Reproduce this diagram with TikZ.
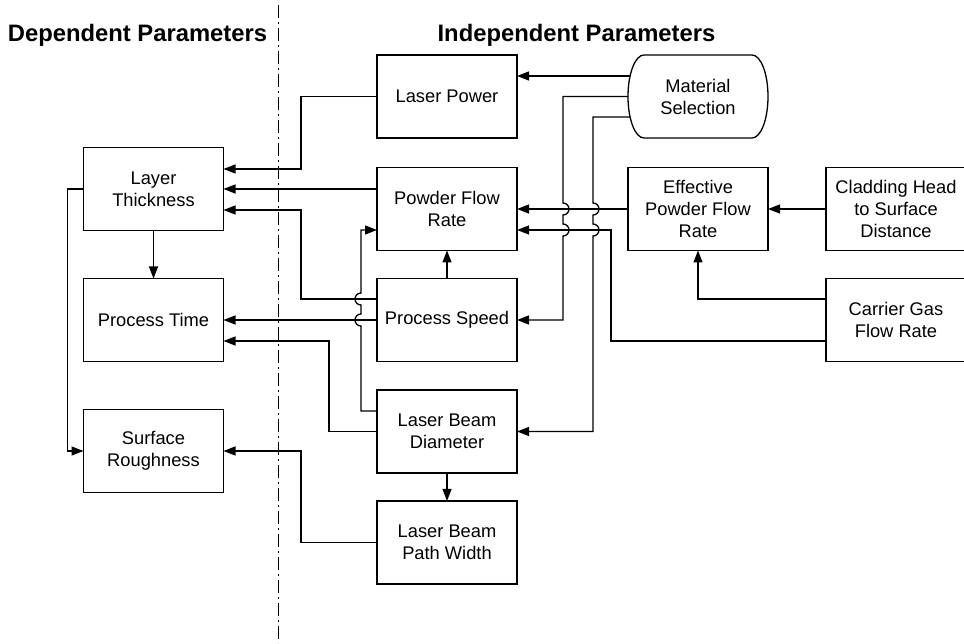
\documentclass[tikz,border=0pt]{standalone}
\usepackage{fontspec}
\setmainfont{Liberation Sans}
\usetikzlibrary{arrows.meta}
\tikzset{%
	param box/.style={
		draw,
		minimum width=140pt,
		minimum height=83pt,
		inner sep=0pt,
		outer sep=0pt,
		align=center,
		font=\fontsize{18.3}{22}\selectfont
	},
	param head/.style={
		anchor=base,
		font=\fontsize{23.8}{28}\selectfont\bfseries
	},
	split line/.style={
		line width=0.9pt,
		dash pattern=on 13pt off 4pt on 2pt off 4pt
	},
}

\begin{document}
\begin{tikzpicture}[x=1pt, y=1pt, line width=1.3pt, >={Triangle[length=12pt,width=9pt]}]
	\useasboundingbox (0,0) rectangle (964,643);
	
	% dependent parameters
	\foreach \n/\y/\t in {lt/454/{Layer\\Thickness}, pt/323/{Process Time}, sr/192/{Surface\\Roughness}}
	\node [param box] (\n) at (153.5,\y) {\t};
	
	% independent parameters
	\foreach \n/\y/\t in {lp/546.5/{Laser Power}, pfr/434/{Powder Flow\\Rate}, ps/323/{Process Speed}, lbd/211.5/{Laser Beam\\Diameter}, lbpw/100.5/{Laser Beam\\Path Width}}
	\node [param box] (\n) at (447,\y) {\t};
	
	\node [param box, draw=none] (ms) at (698,546.5) {Material\\Selection};
	\node [param box] (epfr) at (698,434) {Effective\\Powder Flow\\Rate};
	\node [param box] (chsd) at (896,434) {Cladding Head\\to Surface\\Distance};
	\node [param box] (cg) at (896,323) {Carrier Gas\\Flow Rate};
	
	\draw ([xshift=16pt]ms.north west) -- ([xshift=-16pt]ms.north east)
	arc [start angle=90, end angle=-90, x radius=16pt, y radius=41.5pt]
	-- ([xshift=16pt]ms.south west)
	arc [start angle=270, end angle=90, x radius=16pt, y radius=41.5pt];
	
	% material selection
	\draw [->] ([xshift=2pt, yshift=20.5pt]ms.west) -- ([yshift=20.5pt]lp.east);
	\draw [->] (ms.west) -- ++(-65,0) -- ++(0,-106.5)
	arc [start angle=90, end angle=-90, radius=6pt] -- ++(0,-9)
	arc [start angle=90, end angle=-90, radius=6pt] |- (ps.east);
	\draw [->] ([xshift=2pt, yshift=-20.5pt]ms.west) -- ++(-37,0) -- ++(0,-86)
	arc [start angle=90, end angle=-90, radius=6pt] -- ++(0,-9)
	arc [start angle=90, end angle=-90, radius=6pt] |- (lbd.east);
	
	% effective powder flow rate
	\draw [->] (epfr.west) -- (pfr.east);
	\draw [->] (chsd.west) -- (epfr.east);
	\draw [->] ([yshift=21pt]cg.west) -| (epfr.south);
	\draw [->] ([yshift=-21pt]cg.west) -- ++(-215,0) |- ([yshift=-21pt]pfr.east);
	
	% independent -> dependent
	\draw [->] (lp.west) -- ++(-76,0) |- ([yshift=20pt]lt.east);
	\draw [->] ([yshift=20pt]pfr.west) -- (lt.east);
	\draw [->] ([yshift=21pt]ps.west) -- ++(-76,0) |- ([yshift=-21pt]lt.east);
	\draw [->] (ps.west) -- (pt.east);
	\draw [->] (lbd.west) -- ++(-48,0) |- ([yshift=-21pt]pt.east);
	\draw [->] ([yshift=20.5pt]lbd.west) -- ++(-16,0) -- ++(0,85)
	arc [start angle=-90, end angle=-270, radius=6pt] -- ++(0,9)
	arc [start angle=-90, end angle=-270, radius=6pt] |- ([yshift=-21pt]pfr.west);
	\draw [->] (lbpw.west) -- ++(-76,0) |- (sr.east);
	\draw [->] (ps.north) -- (pfr.south);
	\draw [->] (lbd.south) -- (lbpw.north);
	
	% dependent
	\draw [->] (lt.south) -- (pt.north);
	\draw [->] (lt.west) -- ++(-16,0) |- (sr.west);
	
	% headers
	\draw [split line] (278,638) -- (278,0);
	\node [param head] (dep) at (137.5,601) {Dependent Parameters};
	\node [param head] (indep) at (576.5,601) {Independent Parameters};
	
\end{tikzpicture}
\end{document}
